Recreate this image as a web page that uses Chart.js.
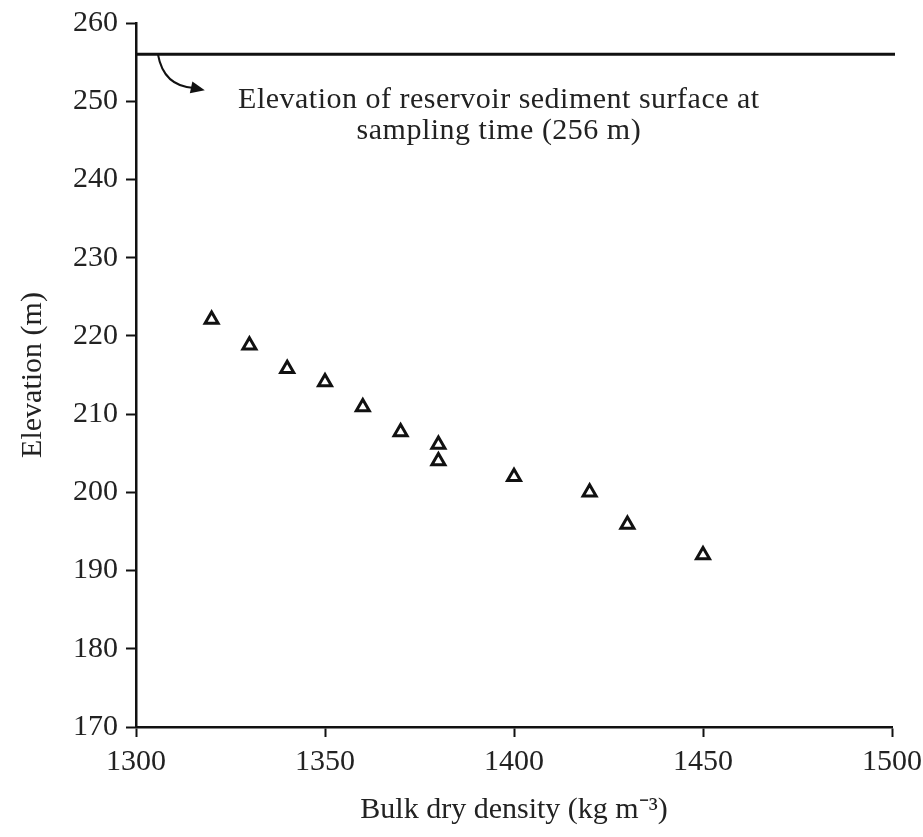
<!DOCTYPE html>
<html><head><meta charset="utf-8">
<script src="https://cdn.jsdelivr.net/npm/chart.js@4/dist/chart.umd.min.js"></script>
<style>html,body{margin:0;padding:0;background:#fff}</style>
</head><body>
<canvas id="c" width="923" height="837"></canvas>
<script>
// ---- data ----
const density = [1320, 1330, 1340, 1350, 1360, 1370, 1380, 1380, 1400, 1420, 1430, 1450];
const elevation = [222.1, 218.8, 215.8, 214.1, 210.9, 207.7, 206.1, 204.0, 202.0, 200.0, 195.9, 192.0];
const xTicks = [1300, 1350, 1400, 1450, 1500];
const yTicks = [170, 180, 190, 200, 210, 220, 230, 240, 250, 260];
const surfaceElevation = 256;
const noteLines = ['Elevation of reservoir sediment surface at', 'sampling time (256 m)'];
const xTitle = 'Bulk dry density (kg m\u207B\u00B3)';
const yTitle = 'Elevation (m)';

const FONT = "'Liberation Serif', 'Times New Roman', serif";
const INK = '#111';
const TXT = '#222';

const notePlugin = {
  id: 'note',
  afterDatasetsDraw(chart) {
    const {ctx, scales: {x, y}} = chart;
    const yy = y.getPixelForValue(surfaceElevation);
    ctx.save();
    ctx.strokeStyle = INK;
    ctx.lineWidth = 3;
    ctx.beginPath();
    ctx.moveTo(x.left, yy);
    ctx.lineTo(x.right + 3, yy);
    ctx.stroke();
    // curved arrow
    const sx = x.getPixelForValue(1305.8), sy = yy;
    const cx = x.getPixelForValue(1307.3), cy = y.getPixelForValue(251.9);
    const ex = x.getPixelForValue(1315.3), ey = y.getPixelForValue(251.7);
    const tx = x.getPixelForValue(1318.2), ty = y.getPixelForValue(251.4);
    ctx.lineWidth = 2;
    ctx.beginPath();
    ctx.moveTo(sx, sy);
    ctx.quadraticCurveTo(cx, cy, ex, ey);
    ctx.stroke();
    const ang = Math.atan2(ty - ey, tx - ex);
    const L = 14, W = 6;
    ctx.fillStyle = INK;
    ctx.beginPath();
    ctx.moveTo(tx, ty);
    ctx.lineTo(tx - L * Math.cos(ang) + W * Math.sin(ang), ty - L * Math.sin(ang) - W * Math.cos(ang));
    ctx.lineTo(tx - L * Math.cos(ang) - W * Math.sin(ang), ty - L * Math.sin(ang) + W * Math.cos(ang));
    ctx.closePath();
    ctx.fill();
    // note text
    ctx.fillStyle = TXT;
    ctx.font = '30px ' + FONT;
    try { ctx.letterSpacing = '0.5px'; } catch (e) {}
    ctx.textAlign = 'center';
    ctx.textBaseline = 'middle';
    ctx.fillText(noteLines[0], x.getPixelForValue(1396), y.getPixelForValue(250.1));
    ctx.fillText(noteLines[1], x.getPixelForValue(1396), y.getPixelForValue(246.2));
    ctx.restore();
  }
};

new Chart(document.getElementById('c'), {
  type: 'scatter',
  data: {
    datasets: [{
      data: density.map((d, i) => ({x: d, y: elevation[i]})),
      pointStyle: 'triangle',
      pointRadius: 7.5,
      pointHoverRadius: 7.5,
      borderWidth: 3,
      borderColor: INK,
      backgroundColor: 'rgba(0,0,0,0)'
    }]
  },
  options: {
    responsive: false,
    animation: false,
    layout: {padding: {top: 23, right: 31, left: 0, bottom: 0}},
    plugins: {legend: {display: false}, tooltip: {enabled: false}},
    scales: {
      x: {
        type: 'linear', min: 1300, max: 1500,
        afterBuildTicks: s => { s.ticks = xTicks.map(v => ({value: v})); },
        afterFit: s => { s.height = 110; s.paddingLeft = 0; s.paddingRight = 0; },
        ticks: {font: {family: FONT, size: 30}, color: TXT, padding: 7, maxRotation: 0, callback: v => String(v)},
        grid: {drawOnChartArea: false, drawTicks: true, tickLength: 10, tickWidth: 2, tickColor: INK},
        border: {color: INK, width: 2.5},
        title: {display: true, text: xTitle, font: {family: FONT, size: 30}, color: TXT, padding: {top: 4, bottom: 9}}
      },
      y: {
        type: 'linear', min: 170, max: 260,
        afterBuildTicks: s => { s.ticks = yTicks.map(v => ({value: v})); },
        afterFit: s => { s.width = 136; s.paddingTop = 0; s.paddingBottom = 0; },
        ticks: {font: {family: FONT, size: 30, lineHeight: 1}, color: TXT, padding: 8, callback: v => String(v)},
        grid: {drawOnChartArea: false, drawTicks: true, tickLength: 10, tickWidth: 2, tickColor: INK},
        border: {color: INK, width: 2.5},
        title: {display: true, text: yTitle, font: {family: FONT, size: 30}, color: TXT, padding: {top: 15, bottom: 0}}
      }
    }
  },
  plugins: [notePlugin]
});
</script>
</body></html>
